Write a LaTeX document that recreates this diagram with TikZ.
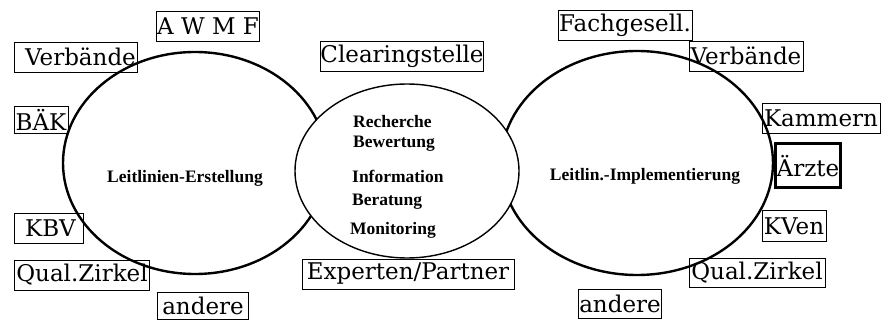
\documentclass[tikz,border=0pt]{standalone}
\usepackage{fontspec}
\setmainfont{Liberation Serif}
\newfontfamily\boxfont{DejaVu Serif}
\begin{document}
\begin{tikzpicture}[x=1pt,y=-1pt,
  lbl/.style={draw,line width=0.9pt,inner sep=0pt,font=\boxfont\fontsize{23}{25}\selectfont},
  inner/.style={inner sep=0pt,font=\bfseries\fontsize{17.5}{19}\selectfont},
  big/.style={draw,line width=2.4pt},
]
\useasboundingbox (0,0) rectangle (883,320);
% large ellipses
\draw[big] (195,163) ellipse [x radius=132pt, y radius=111pt];
\draw[big] (637,163) ellipse [x radius=136pt, y radius=112pt];
% center ellipse
\draw[line width=1.4pt,fill=white] (407,171) ellipse [x radius=112pt, y radius=87pt];
% inner texts
\node[inner] (le) at (185,178) {Leitlinien-Erstellung};
\node[inner] (li) at (645,176) {Leitlin.-Implementierung};
\node[inner,anchor=west] (c1) at (353,122) {Recherche};
\node[inner,anchor=west] (c2) at (353,144) {Bewertung};
\node[inner,anchor=west] (c3) at (352,176) {Information};
\node[inner,anchor=west] (c4) at (352,202) {Beratung};
\node[inner,anchor=west] (c5) at (350,230) {Monitoring};
% left boxes
\node[lbl,minimum width=103pt,minimum height=30pt] (awmf) at (208,26) {A W M F};
\node[lbl,minimum width=123pt,minimum height=30pt] (verbl) at (76,57) {\hspace*{9pt}Verbände};
\node[lbl,minimum width=54pt,minimum height=27pt] (baek) at (41,120) {BÄK};
\node[lbl,minimum width=69pt,minimum height=30pt] (kbv) at (49,228) {\hspace*{3pt}KBV};
\node[lbl,minimum width=135pt,minimum height=30pt] (qzl) at (82,275) {Qual.Zirkel};
\node[lbl,minimum width=91pt,minimum height=27pt] (andl) at (203,306) {andere};
% center boxes
\node[lbl,minimum width=162pt,minimum height=30pt] (clear) at (402,56) {Clearingstelle};
\node[lbl,minimum width=212pt,minimum height=30pt] (exp) at (408,274) {Experten/Partner};
% right boxes
\node[lbl,minimum width=134pt,minimum height=30pt] (fach) at (625,25) {Fachgesell.};
\node[lbl,minimum width=114pt,minimum height=30pt] (verbr) at (746,56) {Verbände};
\node[lbl,minimum width=118pt,minimum height=30pt] (kam) at (821,118) {Kammern};
\node[lbl,line width=3pt,minimum width=65pt,minimum height=44pt] (aerzte) at (808,166) {Ärzte};
\node[lbl,minimum width=64pt,minimum height=31pt] (kven) at (794,226) {KVen};
\node[lbl,minimum width=136pt,minimum height=29pt] (qzr) at (757,273) {Qual.Zirkel};
\node[lbl,minimum width=83pt,minimum height=29pt] (andr) at (620,304) {andere};
\end{tikzpicture}
\end{document}
